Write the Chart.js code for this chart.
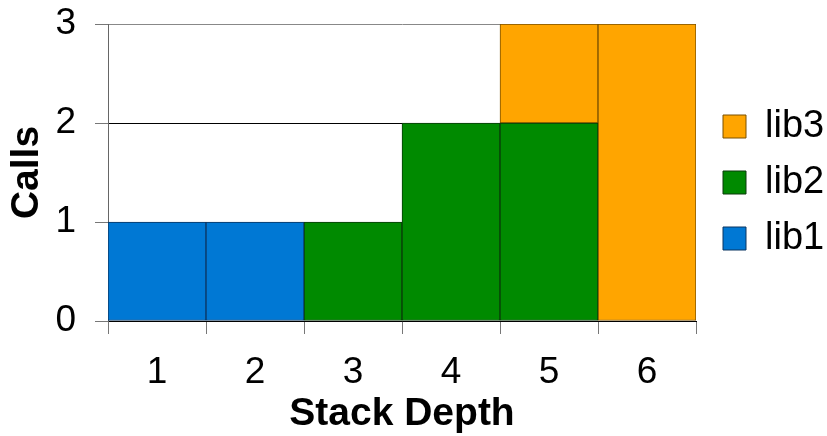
<!DOCTYPE html>
<html>
<head>
<meta charset="utf-8">
<script src="https://cdn.jsdelivr.net/npm/chart.js@4"></script>
<style>
  body { margin: 0; background: #fff; }
</style>
</head>
<body>
<canvas id="depthChart" width="827" height="436"></canvas>
<script>
const depths = ['1', '2', '3', '4', '5', '6'];
const lib1 = [1, 1, 0, 0, 0, 0];
const lib2 = [0, 0, 1, 2, 2, 0];
const lib3 = [0, 0, 0, 0, 1, 3];

const FONT = "'Liberation Sans', Arial, sans-serif";

const data = {
  labels: depths,
  datasets: [
    { label: 'lib1', data: lib1, backgroundColor: '#0078d4', borderColor: '#0b3560' },
    { label: 'lib2', data: lib2, backgroundColor: '#008a00', borderColor: '#0a3a0a' },
    { label: 'lib3', data: lib3, backgroundColor: '#ffa500', borderColor: '#7a5000' },
  ]
};

const config = {
  type: 'bar',
  data: data,
  options: {
    responsive: false,
    animation: false,
    layout: { padding: { top: 24, right: 0, bottom: 0, left: 0 } },
    datasets: {
      bar: {
        barPercentage: 1,
        categoryPercentage: 1,
        borderWidth: 1,
        borderSkipped: false,
      }
    },
    plugins: {
      tooltip: { enabled: false },
      legend: {
        position: 'right',
        fullSize: false,
        reverse: true,
        maxWidth: 122,
        // empty title just nudges the items down a little
        title: { display: true, text: ' ', padding: 0, font: { size: 20, lineHeight: 1 } },
        labels: {
          boxWidth: 23,
          boxHeight: 23,
          padding: 18,
          color: '#000',
          font: { family: FONT, size: 38 }
        }
      }
    },
    scales: {
      x: {
        stacked: true,
        offset: true,
        border: { color: '#000', width: 1 },
        grid: { display: true, drawOnChartArea: false, tickLength: 13, color: '#777', offset: true },
        ticks: { color: '#000', padding: 17, font: { family: FONT, size: 37 } },
        title: { display: true, text: 'Stack Depth', color: '#000', padding: 0, font: { family: FONT, size: 39, weight: 'bold', lineHeight: 1.1 } },
        afterFit: (scale) => { scale.height = 115; }
      },
      y: {
        stacked: true,
        min: 0,
        max: 3,
        border: { color: '#666', width: 1 },
        grid: {
          tickLength: 13,
          color: (ctx) => (ctx.tick && ctx.tick.value === 3 ? '#888' : '#000'),
          tickColor: '#777'
        },
        ticks: { stepSize: 1, color: '#000', padding: 19, font: { family: FONT, size: 37 } },
        title: { display: true, text: 'Calls', color: '#000', padding: { top: 6, bottom: 0 }, font: { family: FONT, size: 39, weight: 'bold', lineHeight: 1.1 } },
        afterFit: (scale) => {
          scale.width = 108;
          scale.paddingTop = 0;
          scale.paddingBottom = 0;
        }
      },
      gap: {
        type: 'linear',
        position: 'right',
        display: true,
        min: 0,
        max: 1,
        grid: { display: false },
        border: { display: false },
        ticks: { display: false },
        afterFit: (scale) => { scale.width = 9; }
      }
    }
  }
};

const depthChart = new Chart(document.getElementById('depthChart'), config);
</script>
</body>
</html>
